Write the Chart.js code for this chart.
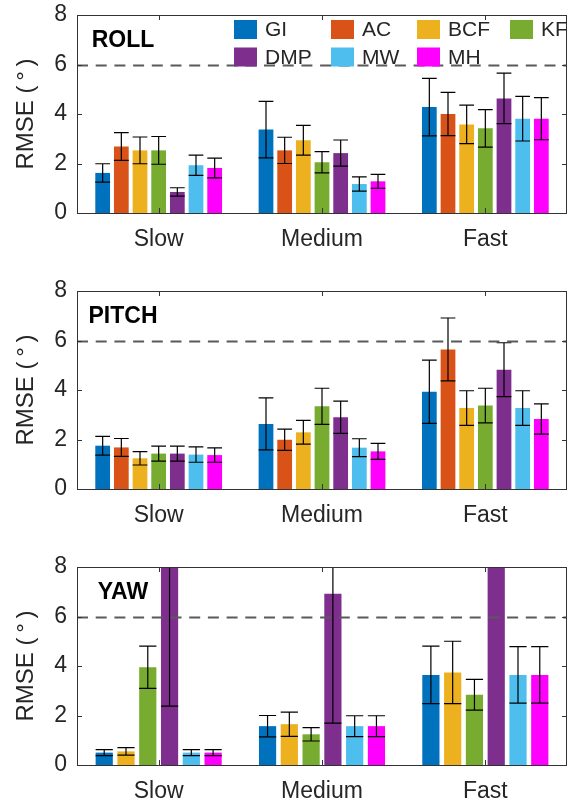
<!DOCTYPE html>
<html><head><meta charset="utf-8">
<script src="https://cdn.jsdelivr.net/npm/chart.js@4.4.1/dist/chart.umd.min.js"></script>
<style>
html,body{margin:0;padding:0;background:#fff;overflow:hidden;}
#wrap{position:relative;width:574px;height:802px;overflow:hidden;background:#fff;}
canvas{position:absolute;left:0;}
</style></head><body>
<div id="wrap">
<canvas id="c1" width="574" height="276" style="top:0px"></canvas>
<canvas id="c2" width="574" height="276" style="top:276px"></canvas>
<canvas id="c3" width="574" height="276" style="top:552px"></canvas>
</div>
<script>
// ---------- DATA ----------
const categories = ['Slow', 'Medium', 'Fast'];
const yTickValues = [0, 2, 4, 6, 8];
const threshold = 6;
const yAxisTitle = 'RMSE (\u2009°\u2009)';

// ROLL
const rollGI = [1.62, 3.37, 4.28],  rollGIErr = [0.37, 1.14, 1.16];
const rollAC = [2.69, 2.53, 4.00],  rollACErr = [0.56, 0.53, 0.87];
const rollBCF = [2.53, 2.94, 3.58], rollBCFErr = [0.54, 0.60, 0.78];
const rollKF = [2.53, 2.05, 3.42],  rollKFErr = [0.56, 0.43, 0.76];
const rollDMP = [0.85, 2.42, 4.63], rollDMPErr = [0.17, 0.53, 1.02];
const rollMW = [1.93, 1.17, 3.81],  rollMWErr = [0.41, 0.29, 0.90];
const rollMH = [1.82, 1.28, 3.81],  rollMHErr = [0.40, 0.28, 0.85];

// PITCH
const pitchGI = [1.75, 2.63, 3.93],  pitchGIErr = [0.38, 1.05, 1.28];
const pitchAC = [1.68, 1.99, 5.64],  pitchACErr = [0.36, 0.43, 1.27];
const pitchBCF = [1.24, 2.29, 3.27], pitchBCFErr = [0.27, 0.48, 0.70];
const pitchKF = [1.43, 3.34, 3.37],  pitchKFErr = [0.30, 0.73, 0.70];
const pitchDMP = [1.43, 2.90, 4.82], pitchDMPErr = [0.30, 0.65, 1.09];
const pitchMW = [1.39, 1.67, 3.27],  pitchMWErr = [0.31, 0.36, 0.70];
const pitchMH = [1.37, 1.52, 2.83],  pitchMHErr = [0.29, 0.32, 0.61];

// YAW (no AC)
const yawGI = [0.50, 1.57, 3.64],  yawGIErr = [0.12, 0.43, 1.16];
const yawBCF = [0.55, 1.65, 3.74], yawBCFErr = [0.15, 0.49, 1.26];
const yawKF = [3.95, 1.24, 2.84],  yawKFErr = [0.85, 0.27, 0.62];
const yawDMP = [10.0, 6.92, 12.0], yawDMPErr = [7.62, 5.23, 3.00];
const yawMW = [0.50, 1.57, 3.64],  yawMWErr = [0.12, 0.42, 1.14];
const yawMH = [0.50, 1.57, 3.64],  yawMHErr = [0.12, 0.42, 1.14];

// ---------- STYLE ----------
const COLORS = {GI:'#0072BD', AC:'#D95319', BCF:'#EDB120', KF:'#77AC30', DMP:'#7E2F8E', MW:'#4DBEEE', MH:'#FF00FF'};
const FONT = '"Liberation Sans", Arial, Helvetica, sans-serif';
const AXIS_COLOR = '#333333';
const TEXT_COLOR = '#262626';

function ds(label, data, errors) {
  return {label, data, errors, backgroundColor: COLORS[label], borderWidth: 0};
}

const panelPlugin = {
  id: 'panelDecor',
  afterDatasetsDraw(chart) {
    const {ctx, chartArea: a, scales: {x, y}} = chart;
    ctx.save();
    ctx.beginPath();
    ctx.rect(a.left, a.top, a.right - a.left, a.bottom - a.top);
    ctx.clip();
    // error bars
    ctx.strokeStyle = '#000';
    ctx.lineWidth = 1.2;
    chart.data.datasets.forEach((d, i) => {
      const meta = chart.getDatasetMeta(i);
      meta.data.forEach((bar, j) => {
        const m = d.data[j], e = d.errors[j];
        const yt = y.getPixelForValue(m + e), yb = y.getPixelForValue(m - e);
        const half = bar.width / 2;
        ctx.beginPath();
        ctx.moveTo(bar.x, yt); ctx.lineTo(bar.x, yb);
        ctx.moveTo(bar.x - half, yt); ctx.lineTo(bar.x + half, yt);
        ctx.moveTo(bar.x - half, yb); ctx.lineTo(bar.x + half, yb);
        ctx.stroke();
      });
    });
    // threshold dashed line
    const ty = Math.round(y.getPixelForValue(threshold)) + 0.5;
    ctx.strokeStyle = '#5a5a5a';
    ctx.lineWidth = 2;
    ctx.setLineDash([11, 7.7]);
    ctx.beginPath();
    ctx.moveTo(a.left, ty); ctx.lineTo(a.right, ty);
    ctx.stroke();
    ctx.restore();
  },
  afterDraw(chart, args, opts) {
    const {ctx, chartArea: a, scales: {x, y}} = chart;
    ctx.save();
    // frame
    ctx.strokeStyle = AXIS_COLOR;
    ctx.lineWidth = 1;
    ctx.strokeRect(Math.round(a.left) + 0.5, Math.round(a.top) + 0.5,
                   Math.round(a.right - a.left) - 1, Math.round(a.bottom - a.top));
    // inward ticks
    const tl = 5;
    ctx.beginPath();
    categories.forEach((c, i) => {
      const px = Math.round(x.getPixelForValue(i)) + 0.5;
      ctx.moveTo(px, a.bottom); ctx.lineTo(px, a.bottom - tl);
      ctx.moveTo(px, a.top); ctx.lineTo(px, a.top + tl);
    });
    yTickValues.forEach(v => {
      const py = Math.round(y.getPixelForValue(v)) + 0.5;
      ctx.moveTo(a.left, py); ctx.lineTo(a.left + tl, py);
      ctx.moveTo(a.right, py); ctx.lineTo(a.right - tl, py);
    });
    ctx.stroke();
    // panel title
    ctx.fillStyle = '#000';
    ctx.font = 'bold 23px ' + FONT;
    ctx.textAlign = 'center';
    ctx.textBaseline = 'alphabetic';
    ctx.fillText(opts.title, a.left + 46, a.top + 32);
    // legend
    if (opts.legend) {
      const colX = [0, 97, 183, 276];
      const rowY = [14.5, 42];
      const lx0 = a.left + 157;
      ctx.font = '21px ' + FONT;
      ctx.textAlign = 'left';
      ctx.textBaseline = 'middle';
      chart.data.datasets.forEach((d, i) => {
        const col = i % 4, row = Math.floor(i / 4);
        const sx = lx0 + colX[col], sy = a.top + rowY[row];
        ctx.fillStyle = d.backgroundColor;
        ctx.fillRect(sx, sy - 9.5, 23, 19);
        ctx.fillStyle = TEXT_COLOR;
        ctx.fillText(d.label, sx + 31, sy + 1);
      });
    }
    ctx.restore();
  }
};

function makePanel(id, datasets, title, legend) {
  return new Chart(document.getElementById(id), {
    type: 'bar',
    data: {labels: categories, datasets},
    plugins: [panelPlugin],
    options: {
      responsive: false,
      animation: false,
      devicePixelRatio: 1,
      layout: {padding: {top: 15, right: 7, left: 0, bottom: 0}},
      datasets: {bar: {categoryPercentage: 0.8, barPercentage: 0.79}},
      plugins: {
        legend: {display: false},
        tooltip: {enabled: false},
        panelDecor: {title, legend}
      },
      scales: {
        x: {
          type: 'category',
          offset: true,
          grid: {display: false, drawTicks: false},
          border: {display: false},
          ticks: {color: TEXT_COLOR, font: {family: FONT, size: 23}, padding: 13, maxRotation: 0},
          afterFit(s) { s.height = 63; s.paddingLeft = 0; s.paddingRight = 0; }
        },
        y: {
          min: 0, max: 8,
          grid: {display: false, drawTicks: false},
          border: {display: false},
          afterBuildTicks(s) { s.ticks = yTickValues.map(v => ({value: v})); },
          ticks: {color: TEXT_COLOR, font: {family: FONT, size: 23}, padding: 10},
          title: {display: true, text: yAxisTitle, color: TEXT_COLOR,
                  font: {family: FONT, size: 24}, padding: {top: 12, bottom: 0}},
          afterFit(s) { s.width = 77; s.paddingTop = 0; s.paddingBottom = 0; }
        }
      }
    }
  });
}

makePanel('c1', [
  ds('GI', rollGI, rollGIErr), ds('AC', rollAC, rollACErr), ds('BCF', rollBCF, rollBCFErr),
  ds('KF', rollKF, rollKFErr), ds('DMP', rollDMP, rollDMPErr), ds('MW', rollMW, rollMWErr),
  ds('MH', rollMH, rollMHErr)
], 'ROLL', true);

makePanel('c2', [
  ds('GI', pitchGI, pitchGIErr), ds('AC', pitchAC, pitchACErr), ds('BCF', pitchBCF, pitchBCFErr),
  ds('KF', pitchKF, pitchKFErr), ds('DMP', pitchDMP, pitchDMPErr), ds('MW', pitchMW, pitchMWErr),
  ds('MH', pitchMH, pitchMHErr)
], 'PITCH', false);

makePanel('c3', [
  ds('GI', yawGI, yawGIErr), ds('BCF', yawBCF, yawBCFErr), ds('KF', yawKF, yawKFErr),
  ds('DMP', yawDMP, yawDMPErr), ds('MW', yawMW, yawMWErr), ds('MH', yawMH, yawMHErr)
], 'YAW', false);
</script>
</body></html>
